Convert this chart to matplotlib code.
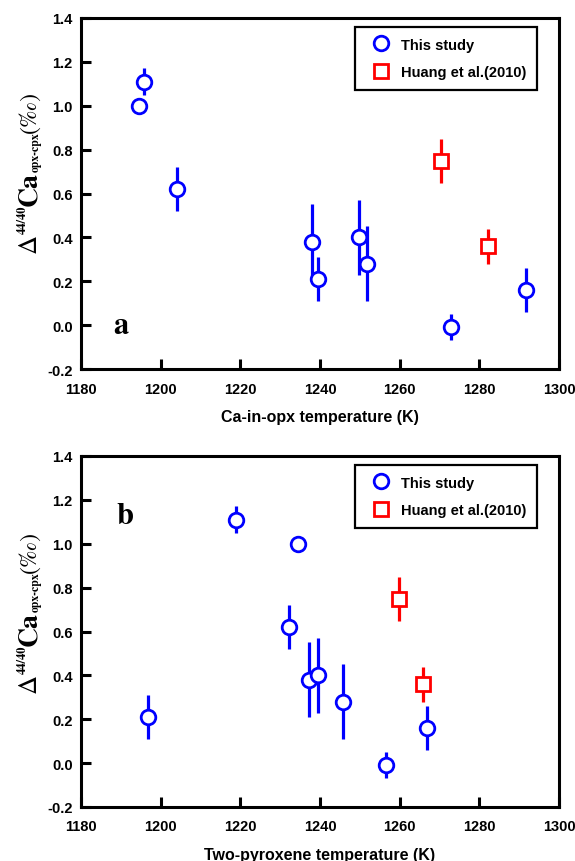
"""Ca isotope fractionation between opx and cpx vs. temperature (two panels)."""

import matplotlib

matplotlib.use("Agg")

import matplotlib.pyplot as plt
from matplotlib.lines import Line2D

# panel a: Ca-in-opx temperature
this_t_a = [1194.6, 1195.7, 1204.0, 1238.1, 1239.4, 1249.8, 1251.9, 1272.8, 1291.7]
# panel b: two-pyroxene temperature (same samples, same order)
this_t_b = [1234.6, 1218.8, 1232.1, 1237.2, 1196.7, 1239.5, 1245.8, 1256.5, 1266.8]
this_d = [1.00, 1.11, 0.62, 0.38, 0.21, 0.40, 0.28, -0.01, 0.16]
this_err = [0.035, 0.06, 0.10, 0.17, 0.10, 0.17, 0.17, 0.06, 0.10]

huang_t_a = [1270.5, 1282.1]
huang_t_b = [1259.9, 1265.8]
huang_d = [0.75, 0.36]
huang_err = [0.10, 0.08]

x_ticks = [1180, 1200, 1220, 1240, 1260, 1280, 1300]
y_ticks = [-0.2, 0.0, 0.2, 0.4, 0.6, 0.8, 1.0, 1.2, 1.4]

BLUE = "#0000ff"
RED = "#ff0000"
SANS = "Liberation Sans"
SERIF = "STIXGeneral"

W, H = 575, 862

# y label pieces: text, size, offset from baseline (px, + = away from axis), weight
LABEL_PIECES = [
    ("Δ", 19, 0, "normal"),
    ("44/40", 9, -10, "bold"),
    ("Ca", 20, 0, "bold"),
    ("opx-cpx", 8.5, 3, "bold"),
    ("(‰)", 17, 0, "normal"),
]


def stacked_ylabel(fig, x_base, y_center):
    """Write the y label piece by piece, rotated, so sub/superscripts can be tiny."""
    renderer = fig.canvas.get_renderer()
    texts = []
    for s, size, dx, weight in LABEL_PIECES:
        t = fig.text((x_base + dx) / W, 0, s, rotation=90, rotation_mode="anchor",
                     ha="left", va="baseline", fontsize=size, fontfamily=SERIF,
                     fontweight=weight)
        texts.append(t)
    lengths = [t.get_window_extent(renderer).height for t in texts]
    y = (H - y_center) - sum(lengths) / 2
    for t, length in zip(texts, lengths):
        x0 = t.get_position()[0]
        t.set_position((x0, y / H))
        y += length


def draw_panel(ax, t_this, t_huang, xlabel, letter, letter_xy):
    ax.errorbar(t_this, this_d, yerr=this_err, fmt="o", color=BLUE,
                mfc="white", mec=BLUE, mew=2.0, ms=10.5, elinewidth=2.3,
                capsize=0, zorder=3)
    ax.errorbar(t_huang, huang_d, yerr=huang_err, fmt="s", color=RED,
                mfc="white", mec=RED, mew=2.0, ms=10.5, elinewidth=2.3,
                capsize=0, zorder=3)

    ax.set_xlim(1180, 1300)
    ax.set_ylim(-0.2, 1.4)
    ax.set_xticks(x_ticks)
    ax.set_yticks(y_ticks)
    ax.set_xticklabels([str(t) for t in x_ticks], fontfamily=SANS,
                       fontweight="bold", fontsize=10.5)
    ax.set_yticklabels([f"{v:.1f}" for v in y_ticks], fontfamily=SANS,
                       fontweight="bold", fontsize=10.5)
    ax.tick_params(direction="in", length=7, width=2.2, pad=6)
    ax.tick_params(axis="x", pad=9)
    for side in ax.spines.values():
        side.set_linewidth(2.2)

    ax.set_xlabel(xlabel, fontfamily=SANS, fontweight="bold", fontsize=11.5,
                  labelpad=10)

    ax.text(letter_xy[0], letter_xy[1], letter, transform=ax.transAxes,
            fontfamily=SERIF, fontweight="bold", fontsize=22,
            ha="center", va="center")

    handles = [
        Line2D([], [], ls="none", marker="o", ms=10.5, mfc="white", mec=BLUE, mew=2.0),
        Line2D([], [], ls="none", marker="s", ms=10.5, mfc="white", mec=RED, mew=2.0),
    ]
    leg = ax.legend(handles, ["This study", "Huang et al.(2010)"],
                    loc="upper right", bbox_to_anchor=(0.954, 0.9735),
                    borderaxespad=0,
                    prop={"family": SANS, "weight": "bold", "size": 10.5},
                    fancybox=False, edgecolor="black", framealpha=1,
                    handletextpad=0.4, borderpad=0.7, labelspacing=0.95,
                    handlelength=2.05)
    leg.get_frame().set_linewidth(1.6)


fig = plt.figure(figsize=(W / 100, H / 100), dpi=100)
ax_a = fig.add_axes([81 / W, 1 - 370 / H, 478 / W, 351 / H])
ax_b = fig.add_axes([81 / W, 1 - 808 / H, 478 / W, 351 / H])

draw_panel(ax_a, this_t_a, huang_t_a, "Ca-in-opx temperature (K)", "a", (0.083, 0.125))
draw_panel(ax_b, this_t_b, huang_t_b, "Two-pyroxene temperature (K)", "b", (0.092, 0.83))

stacked_ylabel(fig, 36, 172)
stacked_ylabel(fig, 36, 612)

fig.savefig("out.png", dpi=100)
